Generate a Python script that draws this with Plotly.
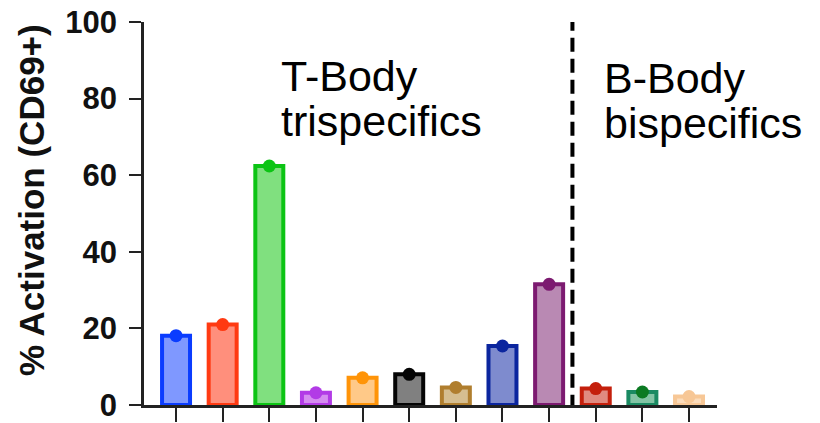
import plotly.graph_objects as go

# ---- data ----
categories = ["T1", "T2", "T3", "T4", "T5", "T6", "T7", "T8", "T9", "B1", "B2", "B3"]
activation = [18.1, 21.0, 62.4, 3.2, 7.1, 8.0, 4.6, 15.4, 31.5, 4.3, 3.4, 2.2]
line_colors = ["#0a3cff", "#ff3a12", "#0cc414", "#b23be6", "#ff9408", "#050505",
               "#b07e2e", "#0b259e", "#7c1a70", "#c41f0c", "#1a8a62", "#f7c796"]
fill_colors = ["#7f98ff", "#ff8f7c", "#80e07f", "#d58df0", "#ffc988", "#808080",
               "#d6be90", "#7e8bce", "#b989b3", "#e08a80", "#83c4a5", "#fbdcbc"]
dot_colors = ["#0a3cff", "#ff3a12", "#0cc414", "#b23be6", "#ff9408", "#050505",
              "#b07e2e", "#0b259e", "#7c1a70", "#c41f0c", "#0b7a22", "#f7c796"]
y_ticks = [0, 20, 40, 60, 80, 100]
divider_pos = 8.5

x_idx = list(range(len(categories)))
font_family = "Liberation Sans, Arial, sans-serif"

fig = go.Figure()
fig.add_trace(go.Bar(
    x=x_idx, y=activation, width=0.6,
    marker=dict(color=fill_colors, line=dict(color=line_colors, width=4)),
    showlegend=False, hoverinfo="y",
))
fig.add_trace(go.Scatter(
    x=x_idx, y=activation, mode="markers",
    marker=dict(color=dot_colors, size=13, line=dict(width=0)),
    showlegend=False, hoverinfo="skip",
))

fig.add_shape(type="line", xref="x", yref="y", x0=divider_pos, x1=divider_pos,
              y0=-1, y1=100, line=dict(color="#000000", width=4, dash="14px,7px"))

W, H = 820, 423
ml, mr, mt, mb = 144, 103, 22, 18
pw, ph = W - ml - mr, H - mt - mb

def px(xp):
    return (xp - ml) / pw

def py(yp):
    return (H - mb - yp) / ph

ann_font = dict(family=font_family, size=43, color="#000000")
labels = [("T-Body", 280, 76), ("trispecifics", 280, 121),
          ("B-Body", 603, 78), ("bispecifics", 603, 123)]
for txt, xp, yp in labels:
    fig.add_annotation(text=txt, xref="paper", yref="paper", x=px(xp), y=py(yp),
                       xanchor="left", yanchor="middle", showarrow=False,
                       font=ann_font, borderpad=0)

fig.add_annotation(text="% Activation (CD69+)", xref="paper", yref="paper",
                   x=px(31), y=py(200), textangle=-90, showarrow=False,
                   xanchor="center", yanchor="middle",
                   font=dict(family=font_family, size=35, color="#111111", weight="bold"))

fig.update_layout(
    width=W, height=H,
    margin=dict(l=ml, r=mr, t=mt, b=mb, pad=0, autoexpand=False),
    plot_bgcolor="white", paper_bgcolor="white",
    bargap=0.3,
)
fig.update_xaxes(
    range=[-0.687, 11.6], tickvals=x_idx, ticktext=[""] * len(x_idx),
    ticks="outside", ticklen=14, tickwidth=2, tickcolor="#222222",
    showline=True, linecolor="#222222", linewidth=2.5,
    showgrid=False, zeroline=False, automargin=False,
)
fig.update_yaxes(
    range=[0, 100], tickvals=y_ticks, ticktext=[str(v) for v in y_ticks],
    ticks="outside", ticklen=12, tickwidth=2, tickcolor="#222222",
    showline=True, linecolor="#222222", linewidth=2.5,
    showgrid=False, zeroline=False, ticklabelstandoff=6, automargin=False,
    tickfont=dict(family=font_family, size=31, color="#111111", weight="bold"),
)

fig.write_html("out.html", config={"displayModeBar": False},
               post_script="document.body.style.margin='0px';document.body.style.overflow='hidden';")
